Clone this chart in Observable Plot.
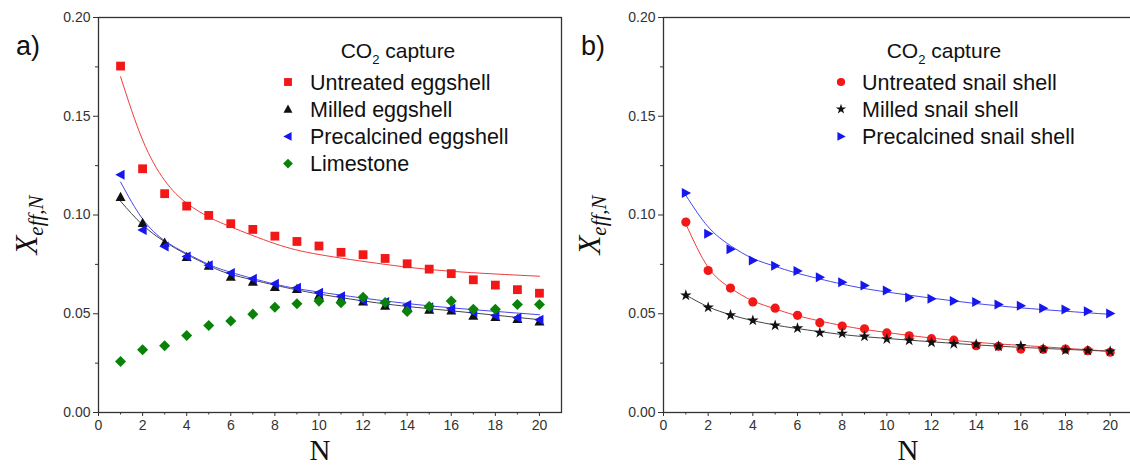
<!DOCTYPE html>
<html>
<head>
<meta charset="utf-8">
<script src="https://cdn.jsdelivr.net/npm/d3@7"></script>
<script src="https://cdn.jsdelivr.net/npm/@observablehq/plot@0.6"></script>
<style>
  html, body { margin: 0; padding: 0; background: #fff; overflow: hidden; }
  #wrap { display: flex; width: 1130px; height: 466px; overflow: hidden; }
  svg { flex: none; }
</style>
</head>
<body>
<div id="wrap"></div>
<script>
// ---------- data ----------
const N = [1,2,3,4,5,6,7,8,9,10,11,12,13,14,15,16,17,18,19,20];
const fitN = [1,2,3,4,5,6,8,10,13,16,20];

// Panel a) eggshell / limestone
const untreatedEgg   = [0.1754,0.1234,0.1108,0.1045,0.0998,0.0956,0.0927,0.0893,0.0866,0.0843,0.0811,0.0799,0.0780,0.0753,0.0726,0.0703,0.0672,0.0645,0.0622,0.0604];
const milledEgg      = [0.1091,0.0959,0.0860,0.0787,0.0743,0.0687,0.0662,0.0635,0.0625,0.0593,0.0576,0.0562,0.0540,0.0533,0.0520,0.0517,0.0490,0.0483,0.0473,0.0461];
const precalcEgg     = [0.1204,0.0924,0.0841,0.0790,0.0745,0.0706,0.0677,0.0652,0.0632,0.0606,0.0589,0.0567,0.0559,0.0544,0.0533,0.0525,0.0508,0.0491,0.0480,0.0470];
const limestone      = [0.0258,0.0318,0.0338,0.0390,0.0441,0.0463,0.0498,0.0533,0.0551,0.0564,0.0556,0.0584,0.0557,0.0512,0.0537,0.0564,0.0523,0.0523,0.0547,0.0547];
const fitUntreatedEgg = [0.170,0.138,0.1175,0.106,0.099,0.094,0.0855,0.0800,0.0750,0.0715,0.0690];
const fitMilledEgg    = [0.107,0.095,0.0865,0.080,0.0745,0.0700,0.0645,0.0600,0.0550,0.0515,0.0470];
const fitPrecalcEgg   = [0.1167,0.098,0.0870,0.0805,0.0750,0.0710,0.0650,0.0610,0.0565,0.0530,0.0495];

// Panel b) snail shell
const untreatedSnail = [0.0964,0.0719,0.0630,0.0560,0.0528,0.0492,0.0455,0.0438,0.0424,0.0403,0.0388,0.0374,0.0366,0.0338,0.0335,0.0321,0.0320,0.0321,0.0313,0.0305];
const milledSnail    = [0.0593,0.0532,0.0493,0.0466,0.0441,0.0427,0.0404,0.0400,0.0385,0.0372,0.0365,0.0355,0.0348,0.0345,0.0335,0.0337,0.0322,0.0316,0.0313,0.0310];
const precalcSnail   = [0.1111,0.0905,0.0826,0.0770,0.0743,0.0716,0.0685,0.0660,0.0643,0.0618,0.0582,0.0576,0.0564,0.0559,0.0547,0.0540,0.0528,0.0521,0.0513,0.0501];
const fitUntreatedSnail = [0.0955,0.0735,0.0630,0.0565,0.0525,0.0490,0.0440,0.0405,0.0365,0.0340,0.0310];
const fitMilledSnail    = [0.0595,0.0535,0.0495,0.0465,0.0443,0.0425,0.0395,0.0375,0.0350,0.0330,0.0310];
const fitPrecalcSnail   = [0.1100,0.0940,0.0845,0.0780,0.0740,0.0705,0.0650,0.0610,0.0565,0.0530,0.0497];

const xMajor = [0,2,4,6,8,10,12,14,16,18,20];
const xMinor = [1,3,5,7,9,11,13,15,17,19];
const yMajor = [0,0.05,0.10,0.15,0.20];
const yMinor = [0.025,0.075,0.125,0.175];

const labelsA = ["Untreated eggshell","Milled eggshell","Precalcined eggshell","Limestone"];
const labelsB = ["Untreated snail shell","Milled snail shell","Precalcined snail shell"];

// ---------- symbols ----------
const rOf = size => Math.sqrt(size / Math.PI);
const symSquare = {draw(c, s){ const r = rOf(s)*0.88; c.rect(-r,-r,2*r,2*r); }};
const symTriUp = {draw(c, s){ const r = rOf(s); c.moveTo(0,-1.05*r); c.lineTo(1.0*r,0.8*r); c.lineTo(-1.0*r,0.8*r); c.closePath(); }};
const symTriLeft = {draw(c, s){ const r = rOf(s); c.moveTo(-1.05*r,0); c.lineTo(0.8*r,-1.0*r); c.lineTo(0.8*r,1.0*r); c.closePath(); }};
const symTriRight = {draw(c, s){ const r = rOf(s); c.moveTo(1.05*r,0); c.lineTo(-0.8*r,-1.0*r); c.lineTo(-0.8*r,1.0*r); c.closePath(); }};
const symDiamond = {draw(c, s){ const r = rOf(s)*1.15; c.moveTo(0,-r); c.lineTo(r,0); c.lineTo(0,r); c.lineTo(-r,0); c.closePath(); }};
const symCircle = {draw(c, s){ const r = rOf(s); c.moveTo(r,0); c.arc(0,0,r,0,2*Math.PI); }};
const symStar = {draw(c, s){ d3.symbolStar.draw(c, s); }};

const RED = "#f21818", BLACK = "#111111", BLUE = "#1616ee", GREEN = "#0a820a";
const FONT = "'Liberation Sans', Arial, Helvetica, sans-serif";
const SERIF = "'Liberation Serif', 'Times New Roman', serif";

function rows(values){ return N.map((n,i) => ({n, v: values[i]})); }
function fitRows(values){ return fitN.map((n,i) => ({n, v: values[i]})); }

function makePanel(cfg){
  const marks = [
    Plot.frame({stroke:"#333", strokeWidth:1.3}),
    Plot.axisX({ticks: xMajor, tickSize: 4, tickPadding: 4, tickFormat: d => String(d), fontSize: 14, label: null, stroke:"#333", color:"#333"}),
    Plot.axisX({ticks: xMinor, tickSize: 2.5, tickFormat: () => "", label: null, stroke:"#333"}),
    Plot.axisY({ticks: yMajor, tickSize: 5, tickPadding: 3, tickFormat: d3.format(".2f"), fontSize: 14, label: null, stroke:"#333", color:"#333"}),
    Plot.axisY({ticks: yMinor, tickSize: 3, tickFormat: () => "", label: null, stroke:"#333"})
  ];
  for (const f of cfg.fits) {
    marks.push(Plot.line(fitRows(f.values), {x:"n", y:"v", stroke: f.color, strokeWidth: 1, curve: "natural"}));
  }
  for (const s of cfg.series) {
    marks.push(Plot.dot(rows(s.values), {x:"n", y:"v", symbol: () => s.symbol, fill: s.color, stroke: "none", r: s.r}));
  }
  const svg = Plot.plot({
    width: cfg.width, height: 466,
    marginLeft: 98, marginRight: cfg.marginRight, marginTop: 17, marginBottom: 54,
    x: {domain: [0, 21], axis: null},
    y: {domain: [0, 0.2], axis: null},
    symbol: {type: "identity"},
    style: {fontFamily: FONT, fontSize: "14px", color: "#333", background: "transparent", overflow: "visible"},
    marks
  });
  const g = d3.select(svg).append("g").attr("text-anchor", "start");
  // panel letter
  g.append("text").attr("x", 16).attr("y", 55).attr("font-family", FONT).attr("font-size", 27).attr("fill", "#111").text(cfg.letter);
  // y-axis title
  const yt = g.append("text").attr("transform", `translate(${cfg.ylabX},225) rotate(-90)`).attr("text-anchor","middle")
    .attr("font-family", SERIF).attr("font-style","italic").attr("fill","#111");
  yt.append("tspan").attr("font-size", 31).text("X");
  yt.append("tspan").attr("font-size", 21).attr("dy", 6).text("eff,N");
  // x-axis title
  g.append("text").attr("x", cfg.nX).attr("y", 459.5).attr("text-anchor","middle").attr("font-family", SERIF).attr("font-size", 29).attr("fill","#111").text("N");
  // legend
  const lt = g.append("text").attr("x", cfg.legTitleX).attr("y", 58).attr("text-anchor","middle").attr("font-family", FONT).attr("font-size", 21).attr("fill","#111");
  lt.append("tspan").text("CO");
  lt.append("tspan").attr("font-size", 13).attr("dy", 6).text("2");
  lt.append("tspan").attr("dy", -6).text(" capture");
  cfg.series.forEach((s, i) => {
    const y = 82 + i * 27.2;
    const p = d3.path(); s.symbol.draw(p, Math.PI * s.r * s.r * 0.8);
    g.append("path").attr("transform", `translate(${cfg.legMarkX},${y})`).attr("d", p.toString()).attr("fill", s.color);
    g.append("text").attr("x", cfg.legTextX).attr("y", y + 7.5).attr("text-anchor","start").attr("font-family", FONT).attr("font-size", 21.5).attr("fill","#111").text(s.label);
  });
  return svg;
}

const panelA = makePanel({
  width: 565, marginRight: 4, letter: "a)", ylabX: 37, nX: 320,
  legTitleX: 398, legMarkX: 288, legTextX: 310,
  fits: [
    {values: fitUntreatedEgg, color: "#f03c3c"},
    {values: fitMilledEgg, color: "#444"},
    {values: fitPrecalcEgg, color: "#4646ee"}
  ],
  series: [
    {label: labelsA[0], values: untreatedEgg, color: RED, symbol: symSquare, r: 5},
    {label: labelsA[1], values: milledEgg, color: BLACK, symbol: symTriUp, r: 5},
    {label: labelsA[2], values: precalcEgg, color: BLUE, symbol: symTriLeft, r: 5},
    {label: labelsA[3], values: limestone, color: GREEN, symbol: symDiamond, r: 4.8}
  ]
});
const panelB = makePanel({
  width: 567, marginRight: 0, letter: "b)", ylabX: 35, nX: 343,
  legTitleX: 379, legMarkX: 276, legTextX: 297,
  fits: [
    {values: fitUntreatedSnail, color: "#f03c3c"},
    {values: fitMilledSnail, color: "#444"},
    {values: fitPrecalcSnail, color: "#4646ee"}
  ],
  series: [
    {label: labelsB[0], values: untreatedSnail, color: RED, symbol: symCircle, r: 4.6},
    {label: labelsB[1], values: milledSnail, color: BLACK, symbol: symStar, r: 3.6},
    {label: labelsB[2], values: precalcSnail, color: BLUE, symbol: symTriRight, r: 5}
  ]
});
document.getElementById("wrap").append(panelA, panelB);
</script>
</body>
</html>
